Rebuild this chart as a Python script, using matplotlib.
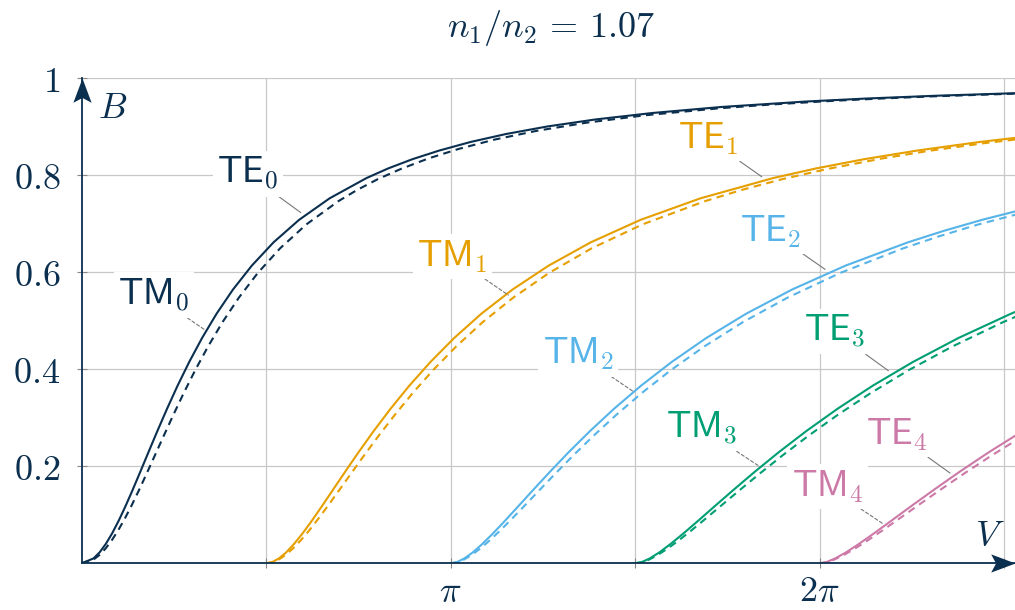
import numpy as np
import matplotlib
matplotlib.use('Agg')
import matplotlib.pyplot as plt
from matplotlib.path import Path

plt.rcParams['mathtext.fontset'] = 'cm'
plt.rcParams['font.family'] = ['DejaVu Serif']

# ---------------- data ----------------
TE0_V = [0, 0.1005, 0.1517, 0.2041, 0.2580, 0.3140, 0.3726, 0.4343, 0.4998, 0.5698, 0.6451, 0.7270,
         0.8165, 0.9152, 1.0250, 1.1483, 1.2879, 1.4479, 1.6332, 1.8508, 2.1103, 2.4251, 2.6091,
         2.8153, 3.0432, 3.3116, 3.6135, 3.9642, 4.3751, 4.8598, 5.4459, 6.1641, 6.6781, 7.2773, 8.0002]
TE0_B = [0, 0.0100, 0.0223, 0.0395, 0.0612, 0.0873, 0.1176, 0.1516, 0.1892, 0.2299, 0.2732, 0.3188,
         0.3663, 0.4150, 0.4646, 0.5146, 0.5644, 0.6136, 0.6617, 0.7081, 0.7524, 0.7943, 0.8141,
         0.8331, 0.8509, 0.8687, 0.8851, 0.9006, 0.9151, 0.9284, 0.9408, 0.9520, 0.9582, 0.9640, 0.9696]
TM0_V = [0, 0.1004, 0.1513, 0.2031, 0.2561, 0.3108, 0.3674, 0.4264, 0.4884, 0.5540, 0.6239, 0.6990,
         0.7802, 0.8690, 0.9669, 1.0759, 1.1986, 1.3384, 1.4996, 1.6883, 1.9128, 2.1848, 2.3438,
         2.5219, 2.7189, 2.9510, 3.2120, 3.5156, 3.8715, 4.2917, 4.8002, 5.4238, 5.8707, 6.3922,
         6.7858, 7.2267, 7.9953]
TM0_B = [0, 0.0076, 0.0171, 0.0304, 0.0474, 0.0680, 0.0923, 0.1200, 0.1511, 0.1855, 0.2229, 0.2631,
         0.3060, 0.3512, 0.3984, 0.4471, 0.4971, 0.5478, 0.5987, 0.6492, 0.6987, 0.7465, 0.7696,
         0.7921, 0.8132, 0.8346, 0.8545, 0.8736, 0.8915, 0.9082, 0.9238, 0.9380, 0.9459, 0.9534,
         0.9580, 0.9625, 0.9687]

TE1_V = [1.5708, 1.6228, 1.6792, 1.7403, 1.8068, 1.8792, 1.9583, 2.0448, 2.1397, 2.2442, 2.3597,
         2.4877, 2.6302, 2.7897, 2.9690, 3.1718, 3.4028, 3.6680, 3.9749, 4.3337, 4.7581, 5.2672,
         5.8880, 6.2521, 6.6606, 7.1114, 7.6465, 8.1211]
TE1_B = [0, 0.0025, 0.0100, 0.0223, 0.0395, 0.0612, 0.0873, 0.1176, 0.1516, 0.1892, 0.2299,
         0.2732, 0.3188, 0.3663, 0.4150, 0.4646, 0.5146, 0.5644, 0.6136, 0.6617, 0.7081, 0.7524,
         0.7943, 0.8141, 0.8331, 0.8509, 0.8687, 0.8819]
TM1_V = [1.5708, 1.6223, 1.6772, 1.7357, 1.7983, 1.8655, 1.9379, 2.0161, 2.1009, 2.1933, 2.2945,
         2.4058, 2.5288, 2.6658, 2.8191, 2.9920, 3.1885, 3.4137, 3.6744, 3.9792, 4.3403, 4.7743,
         5.3048, 5.6164, 5.9666, 6.3537, 6.8138, 7.2229, 7.6815, 8.2015]
TM1_B = [0, 0.0019, 0.0076, 0.0171, 0.0304, 0.0474, 0.0680, 0.0923, 0.1200, 0.1511, 0.1855,
         0.2229, 0.2631, 0.3060, 0.3512, 0.3984, 0.4471, 0.4971, 0.5478, 0.5987, 0.6492, 0.6987,
         0.7465, 0.7696, 0.7921, 0.8132, 0.8346, 0.8507, 0.8661, 0.8809]

TE2_V = [3.1416, 3.1956, 3.2579, 3.3290, 3.4096, 3.5004, 3.6025, 3.7170, 3.8451, 3.9887, 4.1496,
         4.3302, 4.5334, 4.7628, 5.0227, 5.3187, 5.6574, 6.0481, 6.5018, 7.0341, 7.3362, 7.6654, 8.1030]
TE2_B = [0, 0.0025, 0.0100, 0.0223, 0.0395, 0.0612, 0.0873, 0.1176, 0.1516, 0.1892, 0.2299,
         0.2732, 0.3188, 0.3663, 0.4150, 0.4646, 0.5146, 0.5644, 0.6136, 0.6617, 0.6851, 0.7081, 0.7350]
TM2_V = [3.1416, 3.1946, 3.2540, 3.3202, 3.3936, 3.4749, 3.5650, 3.6648, 3.7754, 3.8982, 4.0349,
         4.1876, 4.3587, 4.5513, 4.7692, 5.0171, 5.3010, 5.6287, 6.0104, 6.4588, 6.9923, 7.2974,
         7.6359, 8.0890]
TM2_B = [0, 0.0019, 0.0076, 0.0171, 0.0304, 0.0474, 0.0680, 0.0923, 0.1200, 0.1511, 0.1855,
         0.2229, 0.2631, 0.3060, 0.3512, 0.3984, 0.4471, 0.4971, 0.5478, 0.5987, 0.6492, 0.6740,
         0.6987, 0.7276]

TE3_V = [4.7124, 4.7684, 4.8366, 4.9176, 5.0123, 5.1216, 5.2467, 5.3891, 5.5506, 5.7331, 5.9395,
         6.1727, 6.4366, 6.7360, 7.0765, 7.4655, 7.9120, 8.1094]
TE3_B = [0, 0.0025, 0.0100, 0.0223, 0.0395, 0.0612, 0.0873, 0.1176, 0.1516, 0.1892, 0.2299,
         0.2732, 0.3188, 0.3663, 0.4150, 0.4646, 0.5146, 0.5346]
TM3_V = [4.7124, 4.7669, 4.8308, 4.9046, 4.9888, 5.0843, 5.1921, 5.3135, 5.4499, 5.6031, 5.7754,
         5.9695, 6.1885, 6.4368, 6.7193, 7.0422, 7.4136, 7.8437, 8.1356]
TM3_B = [0, 0.0019, 0.0076, 0.0171, 0.0304, 0.0474, 0.0680, 0.0923, 0.1200, 0.1511, 0.1855,
         0.2229, 0.2631, 0.3060, 0.3512, 0.3984, 0.4471, 0.4971, 0.5275]

TE4_V = [6.2832, 6.3411, 6.4153, 6.5063, 6.6150, 6.7428, 6.8909, 7.0613, 7.2560, 7.4776, 7.7294, 8.0153]
TE4_B = [0, 0.0025, 0.0100, 0.0223, 0.0395, 0.0612, 0.0873, 0.1176, 0.1516, 0.1892, 0.2299, 0.2732]
TM4_V = [6.2832, 6.3392, 6.4077, 6.4890, 6.5840, 6.6937, 6.8193, 6.9622, 7.1244, 7.3080, 7.5159,
         7.7513, 8.0184]
TM4_B = [0, 0.0019, 0.0076, 0.0171, 0.0304, 0.0474, 0.0680, 0.0923, 0.1200, 0.1511, 0.1855,
         0.2229, 0.2631]

mode_names = ['0', '1', '2', '3', '4']
TE_curves = [(TE0_V, TE0_B), (TE1_V, TE1_B), (TE2_V, TE2_B), (TE3_V, TE3_B), (TE4_V, TE4_B)]
TM_curves = [(TM0_V, TM0_B), (TM1_V, TM1_B), (TM2_V, TM2_B), (TM3_V, TM3_B), (TM4_V, TM4_B)]
colors = ['#0b2f4f', '#E69F00', '#56B4E9', '#009E73', '#CC79A7']

# label text positions (V, B) and leader end points (V, B)
TE_label_pos = [(1.412, 0.803), (5.332, 0.875), (5.867, 0.684), (6.407, 0.478), (6.939, 0.265)]
TE_leader_end = [(1.865, 0.723), (5.790, 0.797), (6.329, 0.606), (6.868, 0.397), (7.393, 0.186)]
TM_label_pos = [(0.615, 0.553), (3.157, 0.632), (4.228, 0.431), (5.282, 0.278), (6.350, 0.158)]
TM_leader_end = [(1.050, 0.481), (3.632, 0.553), (4.697, 0.354), (5.775, 0.199), (6.825, 0.081)]

title = r'$n_1/n_2\,{=}\,1.07$'
y_ticks = [0.2, 0.4, 0.6, 0.8, 1.0]
y_ticklabels = [r'$0.2$', r'$0.4$', r'$0.6$', r'$0.8$', r'$1$']
x_ticks = [np.pi / 2, np.pi, 3 * np.pi / 2, 2 * np.pi, 5 * np.pi / 2]
x_ticklabels = ['', r'$\pi$', '', r'$2\pi$', '']

# ---------------- figure ----------------
navy = '#0b2f4f'
fig = plt.figure(figsize=(10.15, 6.1), dpi=100)
ax = fig.add_axes([0.0805, 0.0766, 0.9195, 0.7951])
ax.set_xlim(0, 7.946)
ax.set_ylim(0, 1)

for (v, b), c in zip(TE_curves, colors):
    ax.plot(v, b, color=c, lw=1.5, solid_capstyle='round', solid_joinstyle='round', zorder=3)
for (v, b), c in zip(TM_curves, colors):
    ax.plot(v, b, color=c, lw=1.5, linestyle=(0, (3.6, 2.6)), zorder=3)

ax.set_xticks(x_ticks)
ax.set_xticklabels(x_ticklabels)
ax.set_yticks(y_ticks)
ax.set_yticklabels(y_ticklabels)
ax.tick_params(axis='both', direction='inout', length=7, width=0.8, color='#888888',
               labelsize=26, labelcolor=navy)
ax.tick_params(axis='y', pad=12)
ax.tick_params(axis='x', pad=4)
ax.grid(True, color='#c8c8c8', lw=0.9, zorder=0)
ax.set_axisbelow(True)
for s in ['top', 'right']:
    ax.spines[s].set_visible(False)
for s in ['left', 'bottom']:
    ax.spines[s].set_color(navy)
    ax.spines[s].set_linewidth(1.3)
    ax.spines[s].set_zorder(4)

# stealth arrow heads
up = Path([(0, 0), (-0.375, -1), (0, -0.8), (0.375, -1), (0, 0)],
          [Path.MOVETO, Path.LINETO, Path.LINETO, Path.LINETO, Path.CLOSEPOLY])
right = Path([(0, 0), (-1, 0.375), (-0.8, 0), (-1, -0.375), (0, 0)],
             [Path.MOVETO, Path.LINETO, Path.LINETO, Path.LINETO, Path.CLOSEPOLY])
ax.plot([0], [1.0], marker=up, markersize=35, color=navy, mew=0, clip_on=False, zorder=6)
ax.plot([7.946], [0], marker=right, markersize=35, color=navy, mew=0, clip_on=False, zorder=6)

ax.text(0.262, 0.939, r'$B$', fontsize=26, color=navy, ha='center', va='center')
ax.text(7.734, 0.056, r'$V$', fontsize=26, color=navy, ha='center', va='center')

bbox = dict(boxstyle='square,pad=0.12', fc='white', ec='none')
for k in range(5):
    ax.annotate(r'$\mathsf{TE}_{%s}$' % mode_names[k], xy=TE_leader_end[k], xytext=TE_label_pos[k],
                ha='center', va='center', fontsize=26, color=colors[k], bbox=bbox, zorder=5,
                arrowprops=dict(arrowstyle='-', color='#777777', lw=0.8, shrinkA=0, shrinkB=0))
    ax.annotate(r'$\mathsf{TM}_{%s}$' % mode_names[k], xy=TM_leader_end[k], xytext=TM_label_pos[k],
                ha='center', va='center', fontsize=26, color=colors[k], bbox=bbox, zorder=5,
                arrowprops=dict(arrowstyle='-', color='#777777', lw=0.8, linestyle=(0, (3, 2)),
                                shrinkA=0, shrinkB=0))

fig.text(0.543, 1 - 37 / 610, title, fontsize=26, color=navy, ha='center', va='baseline')

fig.savefig('out.png', dpi=100)
